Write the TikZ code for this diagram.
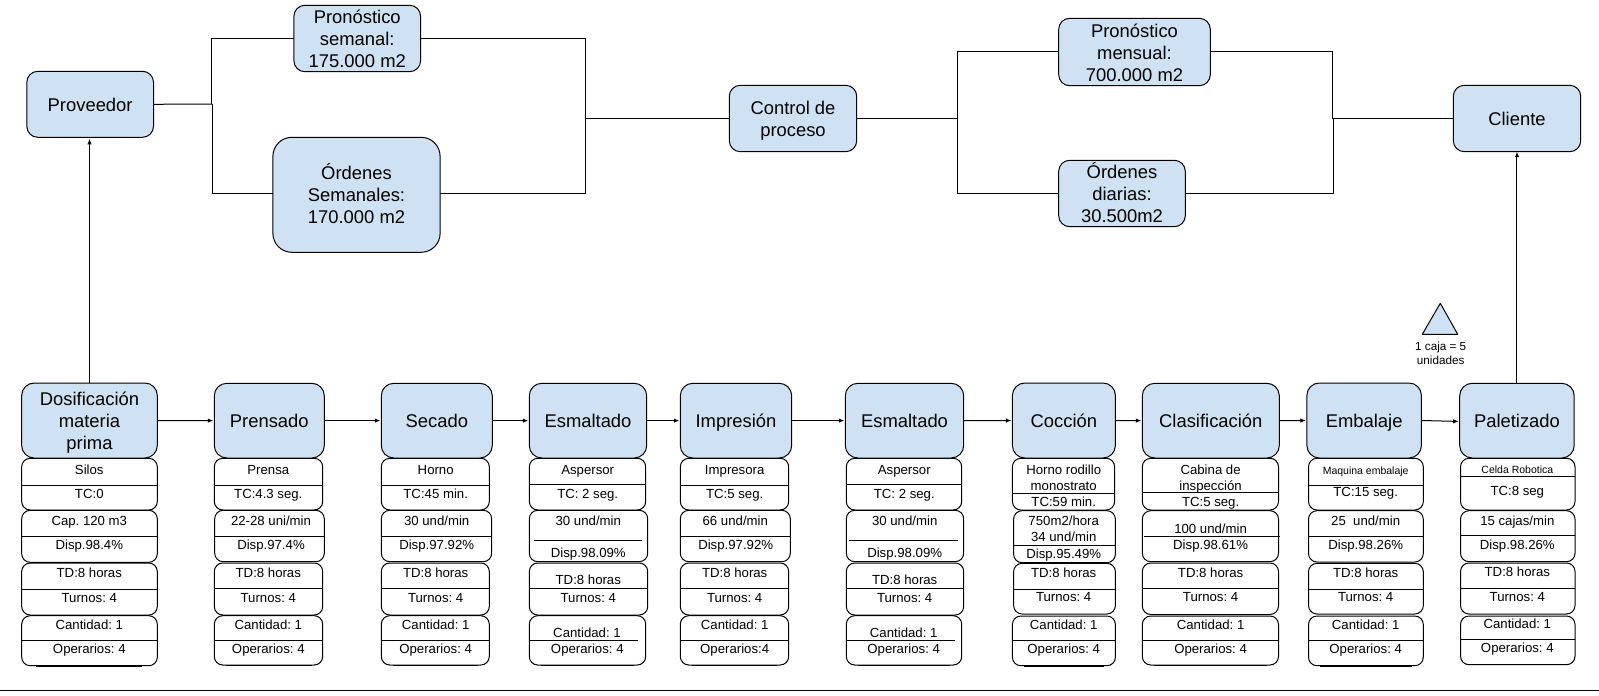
\documentclass[tikz,border=0pt]{standalone}
\usepackage{fontspec}
\setmainfont{Liberation Sans}
\usetikzlibrary{arrows.meta}
\frenchspacing
\definecolor{boxblue}{HTML}{CFE2F3}
\tikzset{
  mainbox/.style={draw=black,fill=boxblue,line width=1pt,inner sep=0pt,outer sep=0pt,align=center,font=\frenchspacing\fontsize{18.4}{22}\selectfont},
  rowbox/.style={draw=black,fill=white,line width=1pt,inner sep=0pt,outer sep=0pt,rounded corners=8.5pt},
  rowtext/.style={inner sep=0pt,anchor=base,font=\frenchspacing\fontsize{13.2}{16}\selectfont},
  tinytext/.style={inner sep=0pt,anchor=base,font=\frenchspacing\fontsize{10.5}{12}\selectfont},
  divider/.style={line width=1pt,draw=black},
  conn/.style={line width=1pt,draw=black},
  flow/.style={line width=1pt,draw=black,-{Latex[length=5.5pt,width=4.5pt]},shorten >=1pt},
}
\newcommand{\topst}{\rule{0pt}{18pt}}
\newcommand{\botst}{\rule[-4pt]{0pt}{4pt}}
% name x1 y1 x2 y2 radius text
\newcommand{\mainb}[7]{%
  \pgfmathsetmacro\myX{(#2+#4)/2}\pgfmathsetmacro\myY{(#3+#5)/2}%
  \pgfmathsetmacro\myW{#4-#2}\pgfmathsetmacro\myH{#5-#3}%
  \node[mainbox,rounded corners=#6pt,minimum width=\myW pt,minimum height=\myH pt] (#1) at (\myX,\myY) {\topst #7\botst};}
% name x1 x2 y1 y2
\newcommand{\rw}[5]{%
  \pgfmathsetmacro\myX{(#2+#3)/2}\pgfmathsetmacro\myY{(#4+#5)/2}%
  \pgfmathsetmacro\myW{#3-#2}\pgfmathsetmacro\myH{#5-#4}%
  \node[rowbox,minimum width=\myW pt,minimum height=\myH pt] (#1) at (\myX,\myY) {};}
% name x y text (y = visual centre of the line)
\newcommand{\tx}[4]{\pgfmathsetmacro\myY{#3+4.7}\node[rowtext] (#1) at (#2,\myY) {#4};}
\newcommand{\dv}[3]{\draw[divider] (#1,#3) -- (#2,#3);}
% bottom double edge
\newcommand{\bt}[3]{\draw[line width=0.8pt] (#1,#3) -- (#2,#3);}
\begin{document}
\begin{tikzpicture}[x=1pt,y=-1pt]
\useasboundingbox (0,0) rectangle (1599,696);
\fill[white] (0,0) rectangle (1599,696);

% ---------- top row
\mainb{prov}{26.8}{71.3}{153.5}{137.3}{11}{Proveedor}
\mainb{pron}{293.9}{5.3}{420.6}{71.7}{11}{Pronóstico\\semanal:\\175.000 m2}
\mainb{ordS}{272.9}{137.3}{440.1}{252.3}{19}{Órdenes\\Semanales:\\170.000 m2}
\mainb{ctrl}{729.3}{85.3}{856.7}{151.7}{11}{Control de\\proceso}
\mainb{pronM}{1058.7}{18.3}{1210.3}{85.7}{11}{Pronóstico\\mensual:\\700.000 m2}
\mainb{ordD}{1058.7}{160.3}{1185.3}{226.7}{11}{Órdenes\\diarias:\\30.500m2}
\mainb{cli}{1453.3}{85.3}{1580.7}{151.7}{11}{Cliente}

\coordinate (ja) at (211.3,104);
\coordinate (jb) at (212.4,104);
\coordinate (jc) at (585.5,118.5);
\coordinate (jd) at (586,118.5);
\coordinate (je) at (957.3,118.5);
\coordinate (jf) at (1332.3,118.5);
\coordinate (jg) at (1333.3,118.5);
\coordinate (l1) at (0,38.3);
\coordinate (l2) at (0,193.7);
\coordinate (l3) at (0,51.3);
\coordinate (l4) at (0,193.3);

\draw[conn] (prov.east) -- (jb);
\draw[conn] (ja) -- (ja |- l1) -- (pron.west |- l1);
\draw[conn] (jb) -- (jb |- l2) -- (ordS.west |- l2);
\draw[conn] (pron.east |- l1) -- (jc |- l1) -- (jc);
\draw[conn] (ordS.east |- l2) -- (jc |- l2) -- (jc);
\draw[conn] (jd) -- (ctrl.west);
\draw[conn] (ctrl.east) -- (je);
\draw[conn] (pronM.west |- l3) -- (je |- l3) -- (je |- l4) -- (ordD.west |- l4);
\draw[conn] (pronM.east |- l3) -- (jf |- l3) -- (jf) -- (cli.west);
\draw[conn] (ordD.east |- l4) -- (jg |- l4) -- (jg);

% ---------- triangle
\coordinate (ta) at (1440.3,303.3);
\coordinate (tb) at (1422.3,334.3);
\coordinate (tc) at (1457.7,334.3);
\draw[fill=boxblue,line width=1pt,line join=round] (ta) -- (tb) -- (tc) -- cycle;
\node[inner sep=0pt,align=center,font=\frenchspacing\fontsize{11.7}{14.3}\selectfont] (tnote) at (1440.7,353.5) {1 caja = 5\\unidades};

% ---------- column rows
% Dosificacion
\rw{a1}{21.7}{157.3}{458.3}{510}\rw{a2}{21.7}{157.3}{510.3}{562.3}\rw{a3}{21.7}{157.3}{563}{615}\rw{a4}{21.7}{157.3}{615.7}{665.7}
\dv{21.7}{157.3}{485.3}\dv{21.7}{157.3}{536.3}\dv{21.7}{157.3}{589}\dv{21.7}{157.3}{640.3}\bt{36}{142}{666.6}
\tx{a1t}{89.3}{469.3}{Silos}\tx{a2t}{89.3}{493.3}{TC:0}\tx{a3t}{89.3}{521}{Cap. 120 m3}\tx{a4t}{89.3}{545}{Disp.98.4\%}
\tx{a5t}{89.3}{572.3}{TD:8 horas}\tx{a6t}{89.3}{597.3}{Turnos: 4}\tx{a7t}{89.3}{625}{Cantidad: 1}\tx{a8t}{89.3}{648.7}{Operarios: 4}
% Prensado
\rw{b1}{214.3}{322.7}{458.3}{510}\rw{b2}{214.7}{324.3}{510.3}{561.7}\rw{b3}{214.3}{322.7}{563}{615}\rw{b4}{214.3}{322.7}{615.7}{665}
\dv{214.3}{322.7}{485.3}\dv{214.7}{324.3}{536.3}\dv{214.3}{322.7}{588.5}\dv{214.3}{322.7}{640.3}\bt{226}{312}{665.8}
\tx{b1t}{268.3}{469.3}{Prensa}\tx{b2t}{268.3}{493.3}{TC:4.3 seg.}\tx{b3t}{271}{521}{22-28 uni/min}\tx{b4t}{271}{545}{Disp.97.4\%}
\tx{b5t}{268.3}{572.3}{TD:8 horas}\tx{b6t}{268.3}{597.3}{Turnos: 4}\tx{b7t}{268.3}{625}{Cantidad: 1}\tx{b8t}{268.3}{648.7}{Operarios: 4}
% Secado
\rw{c1}{381.3}{489.3}{458.3}{510}\rw{c2}{381.3}{491.7}{510.3}{561.7}\rw{c3}{381.3}{489.3}{563}{615}\rw{c4}{381.3}{489.3}{615.7}{665}
\dv{381.3}{489.3}{485.3}\dv{381.3}{491.7}{536.3}\dv{381.3}{489.3}{588.5}\dv{381.3}{489.3}{640.3}\bt{393}{478}{665.8}
\tx{c1t}{435.7}{469.3}{Horno}\tx{c2t}{435.7}{493.3}{TC:45 min.}\tx{c3t}{436.7}{521}{30 und/min}\tx{c4t}{436.7}{545}{Disp.97.92\%}
\tx{c5t}{435.7}{572.3}{TD:8 horas}\tx{c6t}{435.7}{597.3}{Turnos: 4}\tx{c7t}{435.7}{625}{Cantidad: 1}\tx{c8t}{435.7}{648.7}{Operarios: 4}
% Esmaltado 1
\rw{d1}{529.3}{645.7}{458.3}{510}\rw{d2}{529.3}{647.7}{510.3}{561.7}\rw{d3}{529.3}{647.7}{563}{615}\rw{d4}{529.3}{645.7}{615.7}{665}
\dv{529.3}{645.7}{484.3}\dv{533.7}{641.7}{540.3}\dv{529.3}{647.7}{588.3}\dv{529.3}{637.7}{640.3}\bt{541}{634}{665.8}
\tx{d1t}{587.7}{469.3}{Aspersor}\tx{d2t}{587.7}{493.3}{TC: 2 seg.}\tx{d3t}{588.3}{521}{30 und/min}\tx{d4t}{588.3}{552.3}{Disp.98.09\%}
\tx{d5t}{588.3}{580}{TD:8 horas}\tx{d6t}{588.3}{597.3}{Turnos: 4}\tx{d7t}{587}{632.3}{Cantidad: 1}\tx{d8t}{587.3}{648.7}{Operarios: 4}
% Impresion
\rw{e1}{680.3}{788.7}{458.3}{510}\rw{e2}{680.3}{790.3}{510.3}{561.7}\rw{e3}{680.3}{788.7}{563}{615}\rw{e4}{680.3}{788.7}{615.7}{665}
\dv{680.3}{788.7}{485.3}\dv{680.3}{790.3}{536.3}\dv{680.3}{788.7}{588.3}\dv{680.3}{788.7}{640.3}\bt{692}{777}{665.8}
\tx{e1t}{734.7}{469.3}{Impresora}\tx{e2t}{734.7}{493.3}{TC:5 seg.}\tx{e3t}{735.3}{521}{66 und/min}\tx{e4t}{735.7}{545}{Disp.97.92\%}
\tx{e5t}{734.7}{572.3}{TD:8 horas}\tx{e6t}{734.7}{597.3}{Turnos: 4}\tx{e7t}{734.7}{625}{Cantidad: 1}\tx{e8t}{734.7}{648.7}{Operarios:4}
% Esmaltado 2
\rw{f1}{846.3}{961.7}{458.3}{510}\rw{f2}{846.3}{963.7}{510.3}{561.7}\rw{f3}{846.3}{963.7}{563}{615}\rw{f4}{846.3}{961.7}{615.7}{665}
\dv{846.3}{961.7}{484.3}\dv{849}{957.7}{540.3}\dv{846.3}{963.7}{588.3}\dv{846.3}{954.7}{640.3}\bt{858}{950}{665.8}
\tx{f1t}{904.3}{469.3}{Aspersor}\tx{f2t}{904.3}{493.3}{TC: 2 seg.}\tx{f3t}{904.7}{521}{30 und/min}\tx{f4t}{904.7}{552.3}{Disp.98.09\%}
\tx{f5t}{904.7}{580}{TD:8 horas}\tx{f6t}{904.7}{597.3}{Turnos: 4}\tx{f7t}{903.7}{632.3}{Cantidad: 1}\tx{f8t}{903.7}{648.7}{Operarios: 4}
% Coccion
\rw{g1}{1012.4}{1114.6}{458.3}{510}\rw{g2}{1013.6}{1115.4}{510.7}{562.7}\rw{g3}{1013.6}{1115.4}{563.3}{614}\rw{g4}{1012.4}{1115.4}{616}{665.7}
\dv{1012.4}{1114.6}{493.3}\dv{1013.6}{1115.4}{545.3}\dv{1013.6}{1115.4}{589.3}\dv{1012.4}{1115.4}{640.7}\bt{1024}{1104}{666.6}
\tx{g1t}{1063.7}{470}{Horno rodillo}\tx{g1u}{1063.7}{485.7}{monostrato}\tx{g2t}{1063.7}{501.7}{TC:59 min.}\tx{g3t}{1063.7}{520.7}{750m2/hora}\tx{g3u}{1063.7}{536.7}{34 und/min}\tx{g4t}{1063.7}{553.3}{Disp.95.49\%}
\tx{g5t}{1063.7}{572.7}{TD:8 horas}\tx{g6t}{1063.7}{597}{Turnos: 4}\tx{g7t}{1063.7}{624.3}{Cantidad: 1}\tx{g8t}{1063.7}{648.7}{Operarios: 4}
% Clasificacion
\rw{h1}{1142.3}{1278.5}{458.3}{510}\rw{h2}{1142.3}{1278.5}{510.7}{561.7}\rw{h3}{1142.3}{1278.5}{563}{614.5}\rw{h4}{1142.3}{1278.5}{616}{665}
\dv{1142.3}{1278.5}{492.3}\dv{1144.2}{1280.4}{536.3}\dv{1142.3}{1278.5}{588.7}\dv{1142.3}{1278.5}{640.3}\bt{1154}{1267}{665.8}
\tx{h1t}{1210.6}{469.3}{Cabina de}\tx{h1u}{1210.6}{485.3}{inspección}\tx{h2t}{1210.6}{501.7}{TC:5 seg.}\tx{h3t}{1210.6}{528.3}{100 und/min}\tx{h4t}{1210.6}{544.7}{Disp.98.61\%}
\tx{h5t}{1210.6}{572.3}{TD:8 horas}\tx{h6t}{1210.6}{597}{Turnos: 4}\tx{h7t}{1210.6}{624.3}{Cantidad: 1}\tx{h8t}{1210.6}{648.3}{Operarios: 4}
% Embalaje
\rw{i1}{1308.5}{1423.3}{458.3}{510}\rw{i2}{1308.5}{1423.3}{510.7}{562}\rw{i3}{1308.5}{1423.3}{563.3}{614}\rw{i4}{1308.5}{1423.3}{616}{665.7}
\dv{1308.5}{1423.3}{485.3}\dv{1308.5}{1423.3}{536.3}\dv{1308.5}{1423.3}{589}\dv{1308.5}{1423.3}{640.7}\bt{1320}{1412}{666.6}
\node[tinytext] (i1t) at (1365.7,474) {Maquina embalaje};
\tx{i2t}{1365.7}{491.3}{TC:15 seg.}\tx{i3t}{1365.7}{521}{25\ \ und/min}\tx{i4t}{1365.7}{545}{Disp.98.26\%}
\tx{i5t}{1365.7}{572.7}{TD:8 horas}\tx{i6t}{1365.7}{597}{Turnos: 4}\tx{i7t}{1365.7}{624.3}{Cantidad: 1}\tx{i8t}{1365.7}{648.7}{Operarios: 4}
% Paletizado
\rw{j1}{1460.5}{1575}{458.3}{510}\rw{j2}{1460.5}{1575}{510.7}{561.7}\rw{j3}{1460.5}{1575}{563}{614}\rw{j4}{1460.5}{1575}{616}{664.7}
\dv{1460.5}{1575}{476.7}\dv{1460.5}{1575}{535.3}\dv{1460.5}{1575}{588.3}\dv{1460.5}{1575}{639.3}
\node[tinytext] (j1t) at (1517.3,473.4) {Celda Robotica};
\tx{j2t}{1517.3}{490.7}{TC:8 seg}\tx{j3t}{1517.3}{520.3}{15 cajas/min}\tx{j4t}{1517.3}{544.3}{Disp.98.26\%}
\tx{j5t}{1517.3}{572}{TD:8 horas}\tx{j6t}{1517.3}{596.3}{Turnos: 4}\tx{j7t}{1517.3}{624}{Cantidad: 1}\tx{j8t}{1517.3}{648}{Operarios: 4}

% ---------- process boxes
\mainb{dos}{21.7}{383}{157.3}{458}{12.5}{Dosificación\\materia\\prima}
\mainb{pre}{214.3}{383.3}{324.3}{458}{12.5}{Prensado}
\mainb{sec}{381.3}{383.3}{492.3}{458}{12.5}{Secado}
\mainb{esa}{529.3}{383.3}{646.7}{458}{12.5}{Esmaltado}
\mainb{imp}{680.3}{383.3}{791.7}{458}{12.5}{Impresión}
\mainb{esb}{845.3}{383.3}{963.7}{458}{12.5}{Esmaltado}
\mainb{coc}{1012.4}{383}{1115.4}{458}{12.5}{Cocción}
\mainb{cla}{1142.3}{383.3}{1279.3}{458}{12.5}{Clasificación}
\mainb{emb}{1306.9}{383}{1421.4}{458}{12.5}{Embalaje}
\mainb{pal}{1459.7}{383.3}{1574.2}{458}{12.5}{Paletizado}

% ---------- arrows
\draw[flow] (dos.east) -- (pre.west);
\draw[flow] (pre.east) -- (sec.west);
\draw[flow] (sec.east) -- (esa.west);
\draw[flow] (esa.east) -- (imp.west);
\draw[flow] (imp.east) -- (esb.west);
\draw[flow] (esb.east) -- (coc.west);
\draw[flow] (coc.east) -- (cla.west);
\draw[flow] (cla.east) -- (emb.west);
\draw[flow] (emb.east) -- ([yshift=-0.8pt]pal.west);
\draw[flow,shorten >=1.5pt] (dos.north) -- (dos.north |- prov.south);
\draw[flow,shorten >=0pt] (pal.north) -- (pal.north |- cli.south);

% ---------- bottom rule
\coordinate (ra) at (0,690.7);
\coordinate (rb) at (1599,690.7);
\draw[line width=1pt] (ra) -- (rb);
\end{tikzpicture}
\end{document}
